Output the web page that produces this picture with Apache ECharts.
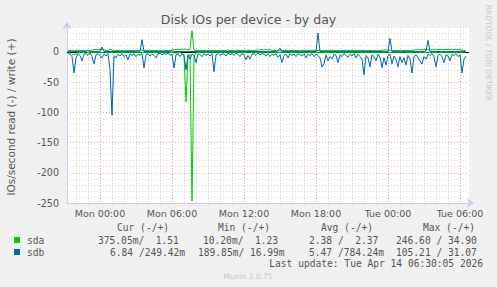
<!DOCTYPE html>
<html><head><meta charset="utf-8">
<script src="https://cdn.jsdelivr.net/npm/echarts@6/dist/echarts.min.js"></script>
<style>html,body{margin:0;padding:0;background:#f0f0f0}#c{width:497px;height:287px}</style>
</head><body><div id="c"></div>
<script>
// time of first sample, hours relative to Mon 00:00 (Sun 21:20), 10-minute samples
const startHour = -2 - 40/60;
const stepHour = 10/60;
const xTickHours = [0, 6, 12, 18, 24, 30];
const xTickLabels = ['Mon 00:00', 'Mon 06:00', 'Mon 12:00', 'Mon 18:00', 'Tue 00:00', 'Tue 06:00'];
const xMinorHours = [-2,-1,1,2,3,4,5,7,8,9,10,11,13,14,15,16,17,19,20,21,22,23,25,26,27,28,29];
const yTickValues = [-250, -200, -150, -100, -50, 0];
const yMinorValues = [-240,-230,-220,-210,-190,-180,-170,-160,-140,-130,-120,-110,-90,-80,-70,-60,-40,-30,-20,-10,10,20,30,40];

// read plotted negative, write positive (IOs/second)
const sdaRead = [
 -0.8,-1.2,-4.5,-5,-3,-1,-0.6,-1.5,-0.8,-0.5,
 -1.0,-0.7,-1.4,-0.9,-0.6,-1.1,-0.8,-1.3,-0.6,-1.0,
 -0.7,-1.2,-0.9,-0.5,-1.1,-0.8,-0.6,-1.3,-0.9,-0.7,
 -1.0,-0.6,-1.2,-0.8,-0.5,-1.1,-0.9,-0.7,-1.3,-0.6,
 -0.8,-1.0,-0.6,-1.2,-0.9,-0.5,-1.1,-0.8,-0.7,-1.0,
 -0.6,-1.2,-0.9,-1.5,-2.0,-1.2,-0.8,-3,-5,-83,
 -6,-4,-246.6,-8,-1.5,-0.8,-1.1,-0.6,-0.9,-1.2,
 -0.7,-1.0,-0.5,-1.3,-0.8,-0.6,-1.1,-0.9,-0.7,-1.2,
 -0.6,-0.9,-1.1,-0.5,-1.4,-0.8,-0.7,-1.0,-0.6,-1.2,
 -0.9,-0.5,-1.1,-0.8,-0.6,-1.3,-0.7,-1.0,-0.9,-0.6,
 -1.2,-0.8,-0.5,-1.1,-0.9,-0.7,-1.3,-0.6,-1.0,-0.8,
 -0.5,-1.2,-0.9,-0.7,-1.1,-0.6,-1.0,-0.8,-1.3,-0.5,
 -0.9,-1.1,-0.7,-0.6,-1.2,-0.8,-1.0,-0.5,-0.9,-1.3,
 -0.7,-1.0,-0.6,-1.1,-0.8,-0.5,-1.2,-0.9,-0.7,-1.0,
 -0.6,-1.3,-0.8,-0.5,-1.1,-0.9,-0.7,-1.2,-0.6,-1.0,
 -0.8,-0.5,-1.1,-0.9,-1.2,-0.7,-1.0,-0.6,-1.3,-0.8,
 -0.5,-1.1,-0.9,-0.7,-1.2,-0.6,-1.0,-0.8,-0.5,-1.1,
 -0.9,-1.3,-0.7,-0.6,-1.0,-0.8,-1.2,-0.5,-0.9,-1.1,
 -0.7,-1.0,-0.6,-1.2,-0.8,-0.5,-1.1,-0.9,-0.7,-1.3,
 -0.6,-1.0,-0.8,-0.5,-1.2,-0.9,-0.7,-1.1,-0.6,-0.4
];
const sdaWrite = [
 2.2,1.8,2.5,1.5,2.0,2.4,1.9,2.6,2.1,1.8,
 2.3,2.0,2.8,3.5,3.8,3.6,4.0,3.7,3.5,2.2,
 2.0,4.5,2.4,1.9,2.3,2.0,2.6,2.2,1.8,2.5,
 2.1,2.4,1.9,2.3,2.0,2.6,2.2,2.8,2.0,2.3,
 1.9,2.5,2.1,2.4,2.0,2.2,1.8,2.6,2.3,2.0,
 2.4,2.1,2.8,3.5,4.0,4.2,3.8,4.5,4.0,4.2,
 3.8,4.0,34.9,2.5,2.0,2.3,1.9,2.4,2.1,2.6,
 2.0,2.3,1.8,2.5,2.2,2.0,2.4,1.9,2.3,2.1,
 2.6,2.0,2.3,1.8,2.5,2.2,2.0,2.4,1.9,2.3,
 2.1,2.5,2.0,2.3,2.6,3.0,3.2,3.5,3.4,3.6,
 3.3,3.5,2.4,2.0,2.3,1.9,2.5,2.2,2.0,2.4,
 1.9,2.3,2.1,2.6,2.0,2.3,1.8,2.5,2.2,2.0,
 2.4,1.9,2.3,2.1,2.6,2.0,2.3,1.8,2.5,2.2,
 2.0,2.4,1.9,2.3,2.1,2.6,2.0,2.3,1.8,2.5,
 2.2,2.0,2.4,1.9,2.3,2.1,2.6,2.0,2.3,1.8,
 2.5,2.2,2.0,2.4,1.9,2.3,2.1,2.6,3.0,3.2,
 3.0,2.8,2.4,2.0,2.3,1.9,2.5,2.2,2.0,2.4,
 1.9,2.3,2.1,3.2,3.5,3.6,3.4,3.5,3.3,3.6,
 3.4,3.5,3.2,3.6,3.4,3.5,3.8,4.0,3.6,3.8,
 3.5,3.7,3.4,3.6,3.8,3.5,3.2,3.0,2.0,1.5
];
const sdbRead = [
 -2,-4,-8,-35,-10,-3,-6,-15,-4,-3,
 -6,-2,-8,-20,-5,-3,-6,-10,-4,-7,
 -3,-30,-105,-6,-10,-4,-7,-3,-8,-5,
 -13,-4,-6,-3,-8,-4,-6,-3,-27,-5,
 -3,-7,-4,-6,-10,-3,-2,-5,-3,-4,
 -2,-6,-4,-27,-5,-3,-8,-4,-6,-30,
 -5,-12,-4,-6,-18,-3,-5,-8,-3,-6,
 -4,-7,-3,-33,-5,-3,-6,-4,-3,-7,
 -2,-5,-3,-6,-2,-4,-8,-3,-5,-13,
 -6,-12,-4,-3,-6,-2,-5,-3,-4,-7,
 -3,-8,-4,-6,-3,-9,-5,-18,-6,-4,
 -10,-3,-6,-4,-8,-3,-5,-7,-3,-10,
 -4,-6,-3,-8,-4,-6,-10,-25,-20,-5,
 -15,-8,-12,-4,-6,-18,-5,-8,-3,-6,
 -9,-4,-7,-3,-10,-4,-8,-12,-38,-6,
 -10,-25,-5,-8,-15,-4,-9,-26,-10,-22,
 -6,-4,-20,-7,-12,-25,-8,-18,-10,-22,
 -6,-12,-35,-8,-5,-10,-15,-20,-8,-12,
 -4,-6,-3,-8,-25,-6,-4,-8,-18,-5,
 -7,-15,-4,-6,-3,-8,-5,-35,-12,-7
];
const sdbWrite = [
 0.3,0.5,0.2,0.6,0.4,0.3,1.2,0.5,0.3,0.4,
 3,0.5,0.3,0.6,0.4,0.8,0.5,8,0.6,0.3,
 0.5,0.4,0.3,0.6,0.3,0.5,0.4,0.7,0.3,0.5,
 0.4,0.6,0.3,0.5,1.5,0.4,0.6,20,0.5,0.3,
 0.4,0.6,0.3,0.5,0.4,0.3,0.6,0.4,0.3,0.5,
 0.4,0.6,2,0.4,0.3,0.5,0.4,0.6,0.3,0.5,
 0.4,0.3,0.6,0.4,0.5,0.3,0.4,0.6,0.3,0.5,
 0.4,0.3,0.5,0.6,0.4,0.3,0.5,0.4,0.6,0.3,
 0.5,0.4,0.3,0.6,0.4,0.5,0.3,0.4,0.6,0.3,
 0.5,0.4,0.3,0.6,0.4,0.5,0.3,0.4,0.6,0.3,
 0.5,0.4,0.3,0.6,0.4,2,6,0.4,0.6,0.3,
 0.5,0.4,0.3,0.6,0.4,0.5,0.3,0.4,0.6,0.3,
 0.5,0.4,0.3,0.6,0.4,31,0.3,0.4,0.6,0.3,
 0.5,0.4,0.3,0.6,0.4,0.5,0.3,0.4,0.6,0.3,
 0.5,0.4,0.3,0.6,0.4,0.5,0.3,0.4,0.6,0.3,
 0.5,0.4,0.3,0.6,0.4,0.5,0.3,0.4,0.6,0.3,
 0.5,22,0.3,0.6,0.4,0.5,0.3,0.4,0.6,0.3,
 0.5,0.4,0.3,0.6,0.4,0.5,0.3,0.4,0.6,1.5,
 19,0.4,0.3,0.6,0.4,0.5,0.3,0.4,0.6,0.3,
 0.5,0.4,0.3,0.6,0.4,0.5,0.3,0.4,0.6,0.25
];

const titleText = 'Disk IOs per device - by day';
const yAxisName = 'IOs/second read (-) / write (+)';
const sideText = 'RRDTOOL / TOBI OETIKER';
const statHeaders = ['Cur (-/+)', 'Min (-/+)', 'Avg (-/+)', 'Max (-/+)'];
const sdaStats = ['375.05m/  1.51', '10.20m/  1.23', '2.38 /  2.37', '246.60 / 34.90'];
const sdbStats = ['6.84 /249.42m', '189.85m/ 16.99m', '5.47 /784.24m', '105.21 / 31.07'];
const lastUpdate = 'Last update: Tue Apr 14 06:30:05 2026';
const footer = 'Munin 2.0.75';

const COL_SDA = '#00cc00', COL_SDB = '#0066b3';
const SANS = 'DejaVu Sans', MONO = 'DejaVu Sans Mono';
const TXT = '#555555';

function toPairs(arr) { return arr.map((v, i) => [startHour + i * stepHour, v]); }

function lineSeries(name, color, data, extra) {
  return Object.assign({
    name, type: 'line', data: toPairs(data), color,
    showSymbol: false, symbol: 'none', z: 5,
    lineStyle: { color, width: 1 },
    emphasis: { disabled: true }, silent: true
  }, extra || {});
}

const headerX = [117, 218, 321, 423];
const sdaX = [98, 203, 309, 396];
const sdbX = [110, 198, 309, 396];
const graphics = [
  { type: 'text', x: 248.5, y: 19, style: { text: titleText, fontSize: 12.5, fontFamily: SANS, fill: TXT, align: 'center', verticalAlign: 'middle' } },
  { type: 'text', x: 10.5, y: 117, rotation: Math.PI / 2, style: { text: yAxisName, fontSize: 10.5, fontFamily: SANS, fill: TXT, align: 'center', verticalAlign: 'middle' } },
  { type: 'text', x: 488, y: 53, rotation: -Math.PI / 2, style: { text: sideText, fontSize: 7.5, fontFamily: SANS, fill: '#c8c8c8', align: 'center', verticalAlign: 'middle' } },
  { type: 'text', x: 483, y: 263, style: { text: lastUpdate, fontSize: 9.6, fontFamily: MONO, fill: TXT, align: 'right', verticalAlign: 'middle' } },
  { type: 'text', x: 248, y: 276, style: { text: footer, fontSize: 7.5, fontFamily: SANS, fill: '#c8c8c8', align: 'center', verticalAlign: 'middle' } }
];
statHeaders.forEach((t, k) => graphics.push({ type: 'text', x: headerX[k], y: 227, style: { text: t, fontSize: 9.6, fontFamily: MONO, fill: TXT, align: 'left', verticalAlign: 'middle' } }));
sdaStats.forEach((t, k) => graphics.push({ type: 'text', x: sdaX[k], y: 240, style: { text: t, fontSize: 9.6, fontFamily: MONO, fill: TXT, align: 'left', verticalAlign: 'middle' } }));
sdbStats.forEach((t, k) => graphics.push({ type: 'text', x: sdbX[k], y: 252, style: { text: t, fontSize: 9.6, fontFamily: MONO, fill: TXT, align: 'left', verticalAlign: 'middle' } }));

const AXIS_COL = '#c6cdea';
const MAJOR = { color: '#eaa0a0', width: 1, type: [1, 2] };
const MINOR = { color: '#d6d6d6', width: 1, type: [1, 2] };

const chart = echarts.init(document.getElementById('c'), null, { renderer: 'svg' });
chart.setOption({
  animation: false,
  backgroundColor: '#f0f0f0',
  grid: { left: 67, right: 28, top: 27, bottom: 84, show: true, backgroundColor: '#ffffff', borderWidth: 0, containLabel: false },
  legend: {
    data: ['sda', 'sdb'], orient: 'vertical', left: 14, top: 234, padding: 0, itemGap: 0,
    itemWidth: 6, itemHeight: 6, icon: 'rect', selectedMode: false,
    textStyle: { fontFamily: MONO, fontSize: 9.6, color: TXT, lineHeight: 12, padding: [0, 0, 0, 2] }
  },
  xAxis: [
    {
      type: 'value', min: -2.75, max: 30.75, z: 2, position: 'bottom',
      axisLine: { show: true, onZero: false, lineStyle: { color: AXIS_COL }, symbol: ['none', 'arrow'], symbolSize: [7, 7], symbolOffset: [0, 5] },
      axisTick: { show: false, customValues: xTickHours },
      axisLabel: { customValues: xTickHours, formatter: v => xTickLabels[xTickHours.indexOf(v)], fontFamily: SANS, fontSize: 9.5, color: TXT, margin: 5 },
      splitLine: { show: true, lineStyle: MAJOR }
    },
    {
      type: 'value', min: -2.75, max: 30.75, z: 1, position: 'bottom',
      axisLine: { show: false, onZero: false }, axisTick: { show: false, customValues: xMinorHours },
      axisLabel: { show: false, customValues: xMinorHours },
      splitLine: { show: true, lineStyle: MINOR }
    }
  ],
  yAxis: [
    {
      type: 'value', min: -250, max: 41, z: 2, position: 'left',
      axisLine: { show: true, onZero: false, lineStyle: { color: AXIS_COL }, symbol: ['none', 'arrow'], symbolSize: [7, 7], symbolOffset: [0, 5] },
      axisTick: { show: false, customValues: yTickValues },
      axisLabel: { customValues: yTickValues, fontFamily: SANS, fontSize: 9.6, color: TXT, margin: 8 },
      splitLine: { show: true, lineStyle: MAJOR }
    },
    {
      type: 'value', min: -250, max: 41, z: 1, position: 'left',
      axisLine: { show: false, onZero: false }, axisTick: { show: false, customValues: yMinorValues },
      axisLabel: { show: false, customValues: yMinorValues },
      splitLine: { show: true, lineStyle: MINOR }
    }
  ],
  graphic: graphics,
  series: [
    lineSeries('sda', COL_SDA, sdaRead),
    lineSeries('sda', COL_SDA, sdaWrite),
    lineSeries('sdb', COL_SDB, sdbRead),
    lineSeries('sdb', COL_SDB, sdbWrite, {
      markLine: { silent: true, symbol: 'none', label: { show: false }, lineStyle: { color: '#000000', width: 1, type: 'solid' }, data: [{ yAxis: 0 }], animation: false }
    })
  ]
});
</script>
</body></html>
